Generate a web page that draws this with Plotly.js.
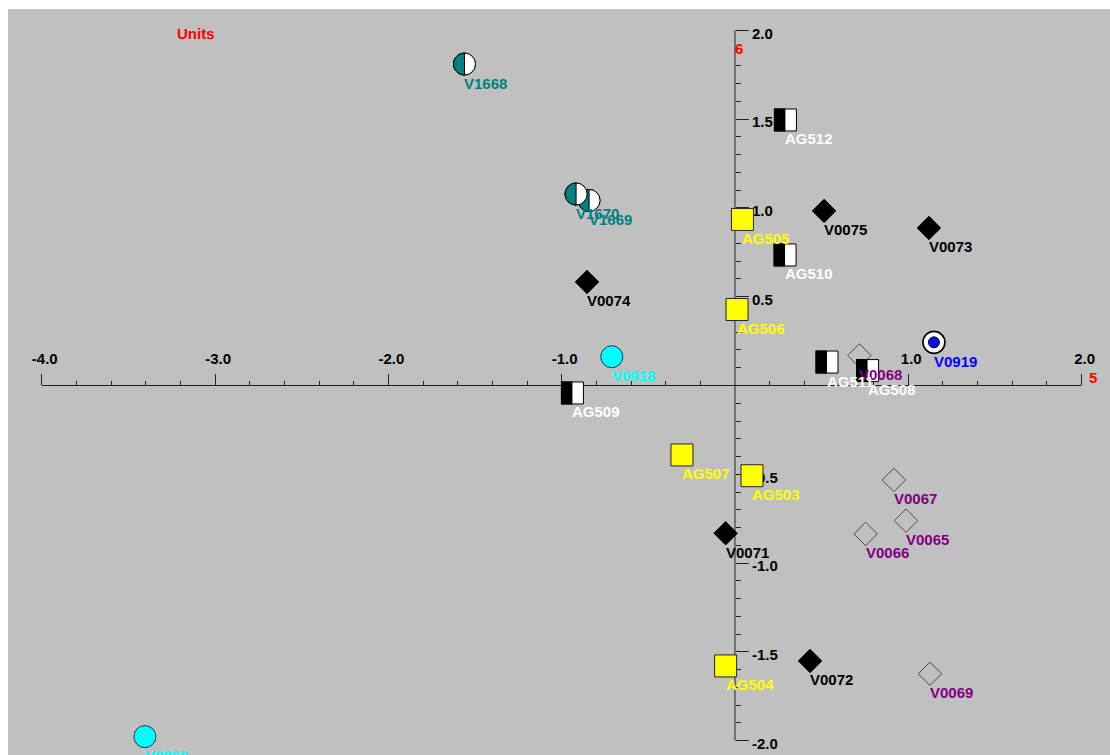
<!DOCTYPE html>
<html>
<head>
<meta charset="utf-8">
<script src="https://cdn.plot.ly/plotly-3.0.1.min.js"></script>
<style>html,body{margin:0;padding:0;background:#fff;}#chart{width:1110px;height:755px;}</style>
</head>
<body>
<div id="chart"></div>
<script>
// ---- data ----
// half teal / white circles
const tealNames = ['V1669', 'V1670', 'V1668'];
const tealX = [-0.842, -0.917, -1.561];
const tealY = [1.042, 1.078, 1.810];

// open diamonds (purple labels)
const openNames = ['V0068', 'V0067', 'V0065', 'V0066', 'V0069'];
const openX = [0.718, 0.917, 0.987, 0.754, 1.125];
const openY = [0.169, -0.532, -0.761, -0.836, -1.623];

// half black / white squares (white labels)
const halfNames = ['AG512', 'AG510', 'AG509', 'AG511', 'AG508'];
const halfX = [0.291, 0.289, -0.938, 0.531, 0.765];
const halfY = [1.495, 0.735, -0.042, 0.132, 0.084];

// yellow squares
const yelNames = ['AG505', 'AG506', 'AG507', 'AG503', 'AG504'];
const yelX = [0.043, 0.012, -0.306, 0.098, -0.054];
const yelY = [0.935, 0.428, -0.391, -0.508, -1.579];

// filled black diamonds
const blkNames = ['V0075', 'V0073', 'V0074', 'V0071', 'V0072'];
const blkX = [0.514, 1.119, -0.854, -0.054, 0.433];
const blkY = [0.983, 0.887, 0.583, -0.832, -1.551];

// cyan circles
const cyanNames = ['V0918', 'V0860'];
const cyanX = [-0.711, -3.405];
const cyanY = [0.162, -1.977];

// blue dot in white circle
const blueNames = ['V0919'];
const blueX = [1.148];
const blueY = [0.243];

// axis ticks
const xTickVals = [-4, -3, -2, -1, 1, 2];
const xTickText = ['-4.0', '-3.0', '-2.0', '-1.0', '1.0', '2.0'];
const yTickVals = [-2, -1.5, -1, -0.5, 0.5, 1, 1.5, 2];
const yTickText = ['-2.0', '-1.5', '-1.0', '-0.5', '0.5', '1.0', '1.5', '2.0'];

// ---- layout geometry ----
const xRange = [-4.195, 2.164];
const yRange = [-2.0805, 2.1199];

const xMinor = [];
for (let i = -20; i <= 10; i++) {
  const v = Math.round(i * 2) / 10;
  if (Math.abs(v - Math.round(v)) > 1e-9) xMinor.push(v);
}
const yMinor = [];
for (let i = -20; i <= 20; i++) {
  const v = i / 10;
  if (Math.abs(v * 2 - Math.round(v * 2)) > 1e-9) yMinor.push(v);
}

const FONT = 'Liberation Sans, Arial, Helvetica, sans-serif';
const tickColor = '#222222';

function scatter(x, y, names, marker) {
  return {type: 'scatter', mode: 'markers', x: x, y: y, text: names,
    hoverinfo: 'text', marker: marker, showlegend: false, cliponaxis: false};
}

const traces = [
  scatter(openX, openY, openNames, {symbol: 'diamond-open', size: 18, color: '#4a4a4a', line: {width: 1, color: '#4a4a4a'}}),
  scatter(halfX, halfY, halfNames, {symbol: 'square', size: 22, color: '#ffffff', line: {width: 1, color: '#000000'}}),
  scatter(yelX, yelY, yelNames, {symbol: 'square', size: 22, color: '#ffff00', line: {width: 1, color: '#222222'}}),
  scatter(blkX, blkY, blkNames, {symbol: 'diamond', size: 18, color: '#000000', line: {width: 1, color: '#000000'}}),
  scatter(cyanX, cyanY, cyanNames, {symbol: 'circle', size: 22, color: '#00ffff', line: {width: 1, color: '#1a3340'}}),
  scatter(blueX, blueY, blueNames, {symbol: 'circle', size: 22, color: '#ffffff', line: {width: 1.6, color: '#000000'}}),
  scatter(blueX, blueY, blueNames, {symbol: 'circle', size: 11, color: '#0a14d8', line: {width: 1, color: '#000040'}}),
  scatter(tealX, tealY, tealNames, {symbol: 'circle', size: 22, color: '#ffffff', line: {width: 1, color: '#000000'}})
];

// axis lines
const shapes = [
  {type: 'line', xref: 'x', yref: 'y', x0: xTickVals[0], x1: xTickVals[xTickVals.length - 1], y0: 0, y1: 0,
    line: {color: tickColor, width: 1}, layer: 'below'},
  {type: 'line', xref: 'x', yref: 'y', x0: 0, x1: 0, y0: yTickVals[0], y1: yTickVals[yTickVals.length - 1],
    line: {color: tickColor, width: 1}, layer: 'below'}
];
// black left halves of the half squares
halfX.forEach(function (xv, i) {
  shapes.push({type: 'rect', xref: 'x', yref: 'y', xsizemode: 'pixel', ysizemode: 'pixel',
    xanchor: xv, yanchor: halfY[i], x0: -11.5, x1: 0, y0: -11.5, y1: 11.5,
    fillcolor: '#000000', line: {width: 0}, layer: 'above'});
});
// half teal circles
const R = 11, K = 0.5523 * 11;
const halfPath = 'M 0,' + R + ' C ' + (-K) + ',' + R + ' ' + (-R) + ',' + K + ' ' + (-R) + ',0 C ' +
  (-R) + ',' + (-K) + ' ' + (-K) + ',' + (-R) + ' 0,' + (-R) + ' Z';
tealX.forEach(function (xv, i) {
  shapes.push({type: 'circle', xref: 'x', yref: 'y', xsizemode: 'pixel', ysizemode: 'pixel',
    xanchor: xv, yanchor: tealY[i], x0: -R, x1: R, y0: -R, y1: R,
    fillcolor: '#ffffff', line: {width: 1, color: '#000000'}, layer: 'above'});
  shapes.push({type: 'path', xref: 'x', yref: 'y', xsizemode: 'pixel', ysizemode: 'pixel',
    xanchor: xv, yanchor: tealY[i], path: halfPath,
    fillcolor: '#008080', line: {width: 1, color: '#000000'}, layer: 'above'});
});

// point labels
const annotations = [];
function addLabels(x, y, names, color) {
  names.forEach(function (n, i) {
    annotations.push({x: x[i], y: y[i], xref: 'x', yref: 'y', text: n, showarrow: false,
      xanchor: 'left', yanchor: 'middle', xshift: -2, yshift: -19,
      font: {family: FONT, size: 15, color: color, weight: 'bold'}});
  });
}
addLabels(openX, openY, openNames, '#800080');
addLabels(halfX, halfY, halfNames, '#ffffff');
addLabels(yelX, yelY, yelNames, '#ffff00');
addLabels(blkX, blkY, blkNames, '#000000');
addLabels(cyanX, cyanY, cyanNames, '#00ffff');
addLabels(blueX, blueY, blueNames, '#0000ff');
addLabels([tealX[1], tealX[0], tealX[2]], [tealY[1], tealY[0], tealY[2]],
  [tealNames[1], tealNames[0], tealNames[2]], '#008080');

// titles / axis names
annotations.push({xref: 'paper', yref: 'paper', x: (195.5 - 8) / 1102, y: (755 - 33.3) / 746, text: 'Units',
  showarrow: false, xanchor: 'center', yanchor: 'middle',
  font: {family: FONT, size: 15, color: '#ff0000', weight: 'bold'}});
annotations.push({xref: 'x', yref: 'y', x: 0, y: yTickVals[yTickVals.length - 1], text: '6',
  showarrow: false, xanchor: 'center', yanchor: 'middle', xshift: 4.5, yshift: -18,
  font: {family: FONT, size: 15, color: '#ff0000', weight: 'bold'}});
annotations.push({xref: 'x', yref: 'y', x: xTickVals[xTickVals.length - 1], y: 0, text: '5',
  showarrow: false, xanchor: 'center', yanchor: 'middle', xshift: 11.5, yshift: 8,
  font: {family: FONT, size: 15, color: '#ff0000', weight: 'bold'}});

const xPos = (0 - yRange[0]) / (yRange[1] - yRange[0]);
const yPos = (0 - xRange[0]) / (xRange[1] - xRange[0]);

const layout = {
  width: 1110, height: 755,
  margin: {l: 8, r: 0, t: 9, b: 0, pad: 0},
  paper_bgcolor: '#ffffff',
  plot_bgcolor: '#c0c0c0',
  showlegend: false,
  hovermode: 'closest',
  font: {family: FONT},
  xaxis: {
    range: xRange, anchor: 'free', position: xPos, side: 'top', automargin: false,
    showgrid: false, zeroline: false, showline: false, layer: 'below traces',
    tickmode: 'array', tickvals: xTickVals, ticktext: xTickText,
    ticks: 'outside', ticklen: 11, tickwidth: 1, tickcolor: tickColor,
    ticklabelstandoff: 4, ticklabelshift: 3,
    tickfont: {family: FONT, size: 15, color: '#000000', weight: 'bold'},
    minor: {tickmode: 'array', tickvals: xMinor, ticks: 'outside', ticklen: 4, tickwidth: 1, tickcolor: tickColor, showgrid: false}
  },
  yaxis: {
    range: yRange, anchor: 'free', position: yPos, side: 'right', automargin: false,
    showgrid: false, zeroline: false, showline: false, layer: 'below traces',
    tickmode: 'array', tickvals: yTickVals, ticktext: yTickText,
    ticks: 'outside', ticklen: 13, tickwidth: 1, tickcolor: tickColor,
    ticklabelstandoff: 0, ticklabelshift: 3,
    tickfont: {family: FONT, size: 15, color: '#000000', weight: 'bold'},
    minor: {tickmode: 'array', tickvals: yMinor, ticks: 'outside', ticklen: 5, tickwidth: 1, tickcolor: tickColor, showgrid: false}
  },
  shapes: shapes,
  annotations: annotations
};

Plotly.newPlot('chart', traces, layout, {staticPlot: true, displayModeBar: false});
</script>
</body>
</html>
